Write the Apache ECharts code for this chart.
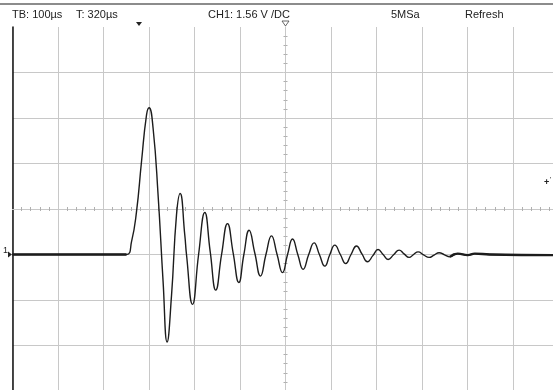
<!DOCTYPE html>
<html><head><meta charset="utf-8">
<script src="https://cdn.jsdelivr.net/npm/echarts@6/dist/echarts.min.js"></script>
<style>html,body{margin:0;padding:0;background:#fff}#c{width:553px;height:390px}</style>
</head><body><div id="c"></div>
<script>
// Trace samples: time (µs from left edge), voltage (V above ground marker)
const traceTime  = [0, 250.5, 261.5, 272.5, 283.5, 294.5, 300.2, 309, 320, 331, 339.8, 349.5, 360.4, 368.4, 378.7, 382.4, 395.6,
                    409, 422.6, 434.5, 446.8, 459.5, 472.5, 485, 497.4, 508.5, 520, 532.5, 545.1, 557, 569.2, 581.5, 593.4,
                    604.5, 615.4, 627, 638.7, 651, 662.9, 674.5, 686.4, 697.5, 708.4, 720.5, 732.5, 744, 756, 768, 780.2,
                    792, 803.5, 814.5, 825.5, 837.5, 849.7, 860.5, 871.6, 881.5, 891.4, 903.5, 915.6, 926.5, 937.6, 949.5,
                    961.1, 978.6, 1000.5, 1016, 1049, 1200];
const traceVolts = [0, 0, 0.43, 1.46, 3.18, 4.78, 5.03, 4.33, 2.03, -0.94, -3.0, -1.40, 1.35, 2.09, 0.66, 0.0, -1.71,
                    0.0, 1.44, 0.1, -1.22, 0.0, 1.06, 0.05, -0.96, 0.0, 0.83, 0.05, -0.74, 0.0, 0.64, 0.0, -0.62,
                    0.0, 0.53, 0.0, -0.51, 0.0, 0.40, 0.0, -0.40, 0.0, 0.32, 0.0, -0.31, 0.0, 0.29, 0.02, -0.25,
                    -0.04, 0.17, 0.0, -0.17, -0.01, 0.15, 0.02, -0.10, 0.0, 0.09, -0.01, -0.10, -0.02, 0.06, -0.01,
                    -0.08, 0.03, -0.02, 0.03, 0.0, -0.02];
// Noisy (thicker) flat parts of the trace
const preTriggerTime  = [0, 250.5];
const preTriggerVolts = [0, 0];
const tailTime  = [961.1, 978.6, 1000.5, 1016, 1049, 1200];
const tailVolts = [-0.08, 0.03, -0.02, 0.03, 0.0, -0.02];
// Scale settings
const usPerDiv = 100;
const voltsPerDiv = 1.56;
const voltMin = -4.68;   // 3 divisions below ground
const voltMax = 7.8;     // 5 divisions above ground
const headerLabels = ['TB: 100µs', 'T: 320µs', 'CH1: 1.56 V /DC', '5MSa', 'Refresh'];

const gridRect = {left: 12.5, top: 27, width: 546, height: 364, outerBoundsMode: 'none', containLabel: false};
const gridColor = '#c8c8c8';
const tickColor = '#b0b0b0';
const font = '"Liberation Sans", Arial, sans-serif';

function centerAxis(dim, pos, gridIndex) {
  return {
    gridIndex: gridIndex, type: 'value', position: pos,
    min: dim === 'x' ? -6 * usPerDiv : -4, max: dim === 'x' ? 6 * usPerDiv : 4,
    interval: dim === 'x' ? usPerDiv : 1,
    axisLabel: {show: false}, axisTick: {show: false}, splitLine: {show: false},
    minorTick: {show: true, splitNumber: 5, length: 2, lineStyle: {color: tickColor, width: 1}},
    axisLine: {show: true, onZero: true, lineStyle: {color: gridColor, width: 1}}
  };
}

const pairs = (xs, ys) => xs.map((x, i) => [x, ys[i]]);
const headerX = [12, 76, 208, 391, 465];

const chart = echarts.init(document.getElementById('c'), null, {renderer: 'canvas'});
chart.setOption({
  animation: false,
  backgroundColor: '#fff',
  grid: [Object.assign({}, gridRect), Object.assign({}, gridRect), Object.assign({}, gridRect)],
  xAxis: [
    {gridIndex: 0, type: 'value', min: 0, max: 12 * usPerDiv, interval: usPerDiv,
     axisLabel: {show: false}, axisTick: {show: false}, axisLine: {show: false},
     splitLine: {show: true, lineStyle: {color: gridColor, width: 1}}},
    centerAxis('x', 'bottom', 1),
    centerAxis('x', 'top', 2)
  ],
  yAxis: [
    {gridIndex: 0, type: 'value', min: voltMin, max: voltMax, interval: voltsPerDiv,
     axisLabel: {show: false}, axisTick: {show: false},
     axisLine: {show: true, onZero: false, lineStyle: {color: '#111', width: 1.5}},
     splitLine: {show: true, showMaxLine: false, lineStyle: {color: gridColor, width: 1}}},
    centerAxis('y', 'left', 1),
    centerAxis('y', 'right', 2)
  ],
  series: [
    {type: 'line', xAxisIndex: 0, yAxisIndex: 0, data: pairs(traceTime, traceVolts), smooth: 0.5,
     showSymbol: false, lineStyle: {color: '#1c1c1c', width: 1.4}, z: 5},
    {type: 'line', xAxisIndex: 0, yAxisIndex: 0, data: pairs(preTriggerTime, preTriggerVolts),
     showSymbol: false, lineStyle: {color: '#1c1c1c', width: 2.6}, z: 6},
    {type: 'line', xAxisIndex: 0, yAxisIndex: 0, data: pairs(tailTime, tailVolts), smooth: 0.5,
     showSymbol: false, lineStyle: {color: '#1c1c1c', width: 2.4}, z: 6}
  ],
  graphic: [
    {type: 'line', shape: {x1: 0, y1: 4, x2: 553, y2: 4}, style: {stroke: '#8c8c8c', lineWidth: 2}},
    ...headerLabels.map((t, i) => ({type: 'text', left: headerX[i], top: 9,
      style: {text: t, fill: '#222', font: '11px ' + font}})),
    {type: 'polygon', shape: {points: [[136, 22], [142, 22], [139, 26]]}, style: {fill: '#222'}},
    {type: 'polygon', shape: {points: [[282, 21], [289, 21], [285.5, 26]]}, style: {fill: '#fff', stroke: '#444', lineWidth: 0.8}},
    {type: 'text', left: 3, top: 246, style: {text: '1', fill: '#222', font: '9px ' + font}},
    {type: 'polygon', shape: {points: [[8, 251.5], [12, 254.5], [8, 257.5]]}, style: {fill: '#222'}},
    {type: 'text', left: 544, top: 178, style: {text: '+', fill: '#222', font: 'bold 9px ' + font}},
    {type: 'text', left: 550, top: 177, style: {text: "'", fill: '#222', font: '7px ' + font}}
  ]
});
</script>
</body></html>
